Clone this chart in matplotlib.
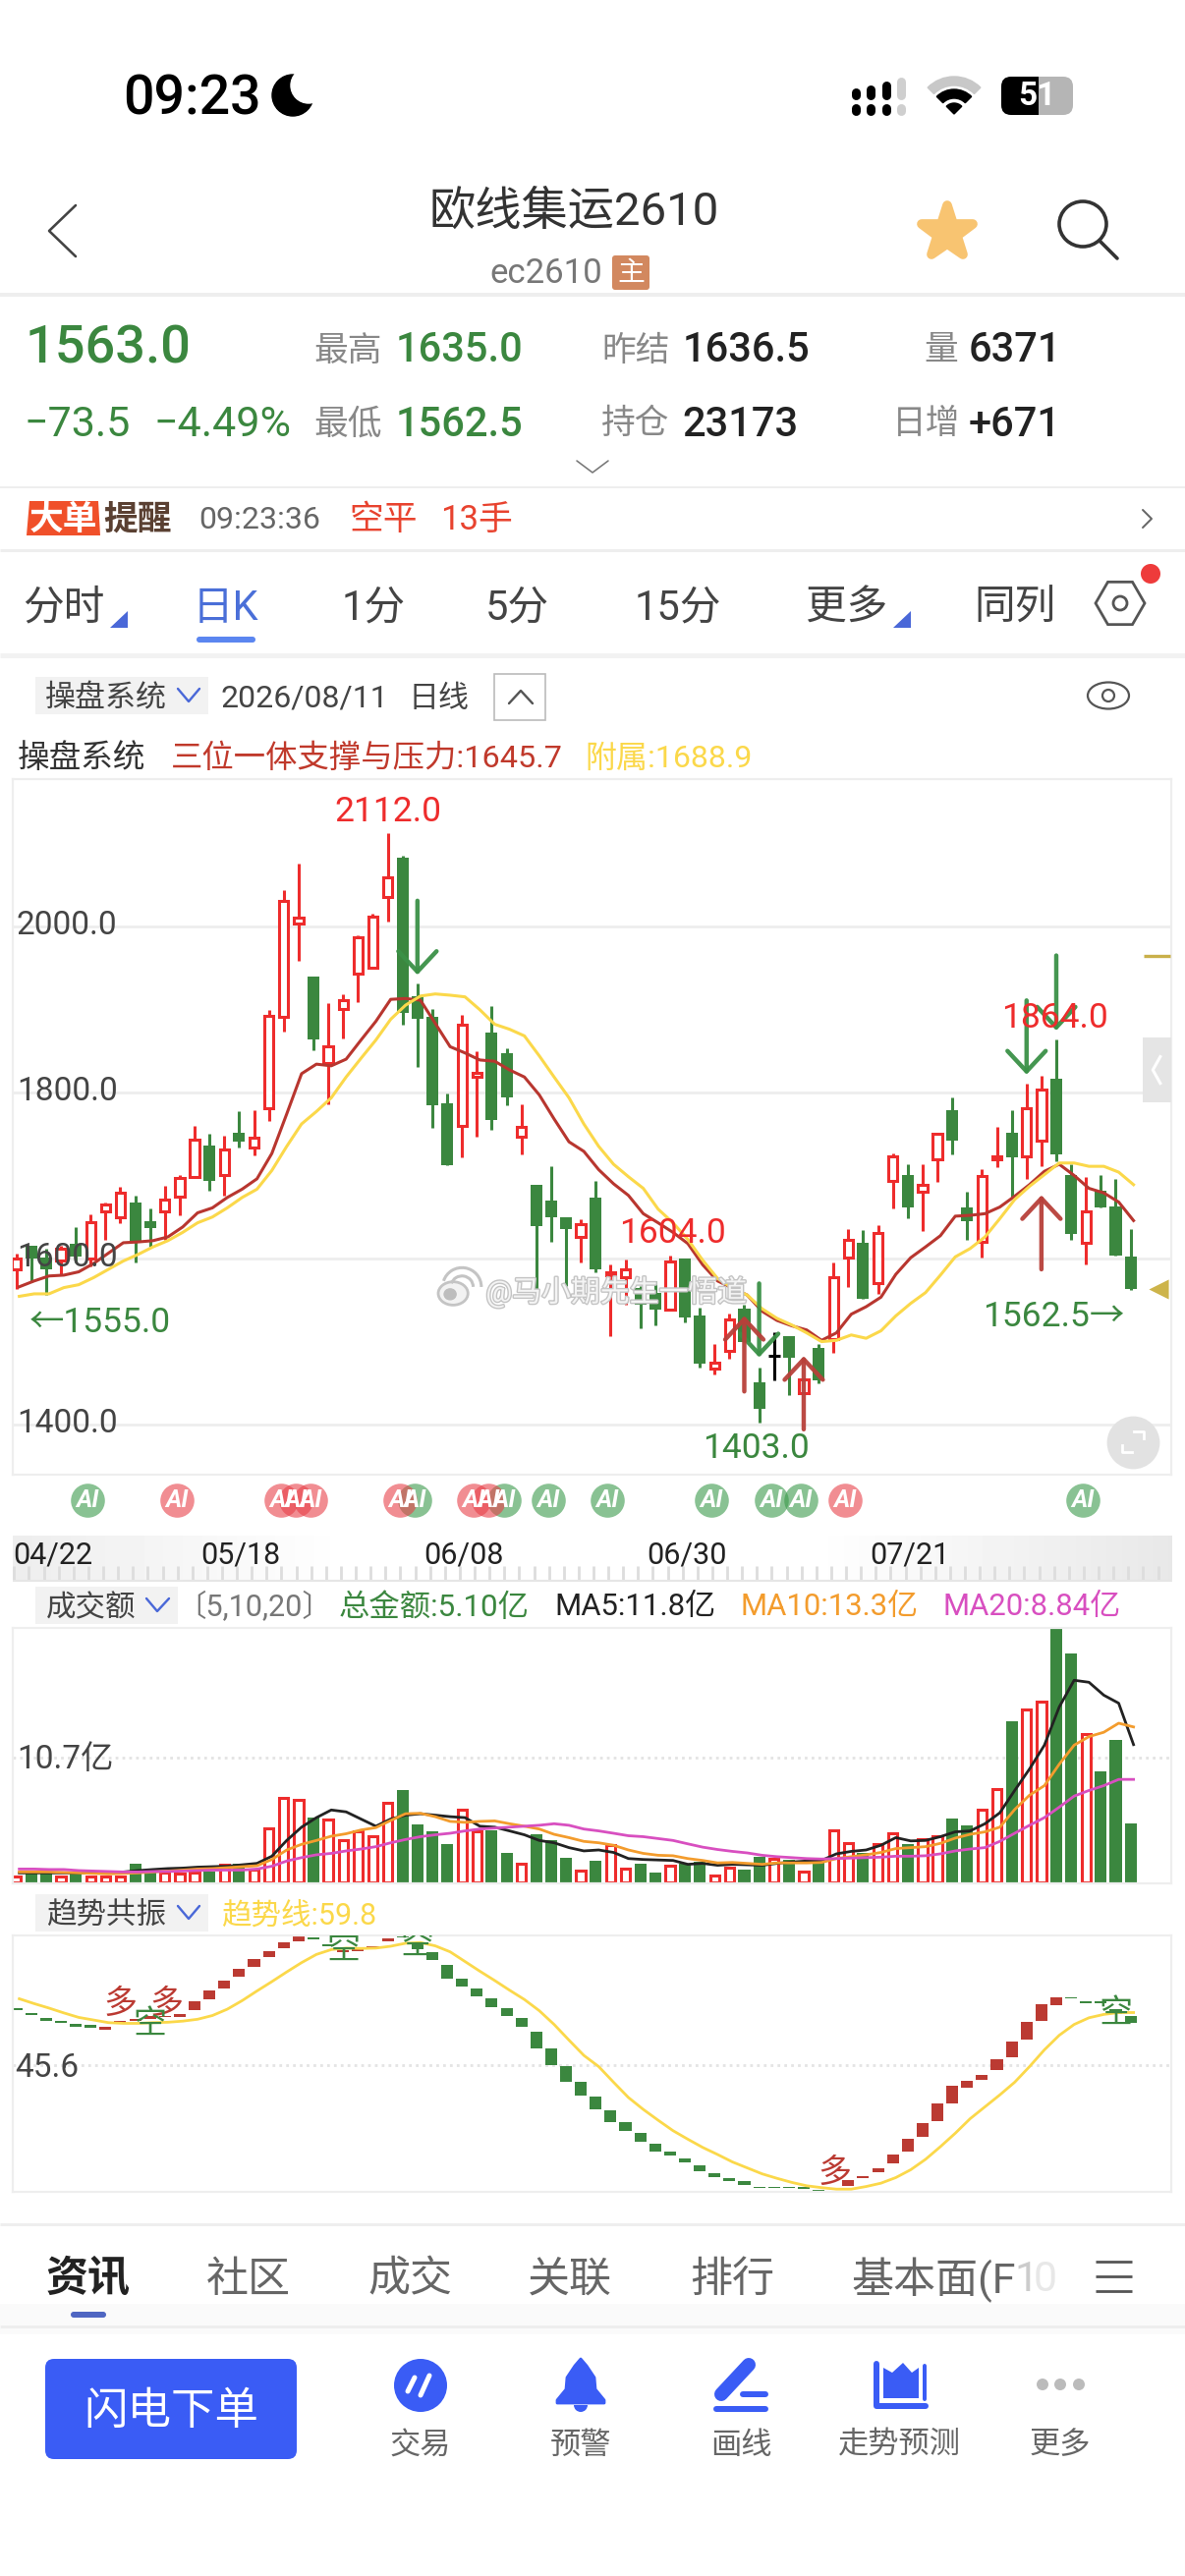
#libs
import matplotlib
matplotlib.use("Agg")
import matplotlib.pyplot as plt
import matplotlib.patheffects as pe
import numpy as np
from matplotlib.markers import MarkerStyle
from matplotlib.patches import Arc, Circle, Ellipse, FancyBboxPatch, Polygon, Rectangle, RegularPolygon, Wedge

plt.rcParams['font.family'] = ['Roboto', 'Noto Sans CJK SC', 'DejaVu Sans']

W, H = 1206, 2622

#price data, daily bars 04/22 to 08/11
opens = [1587, 1615, 1601, 1598, 1618, 1600, 1657, 1650, 1668, 1644.5, 1657, 1674.5, 1698.5, 1736, 1700, 1751.5,
         1734, 1780.5, 1891, 2003, 1940, 1835, 1900, 1943, 1950, 2035, 2082, 1916, 1891, 1787, 1760, 1818.5,
         1872, 1847.5, 1747, 1688.5, 1669.5, 1650, 1626.5, 1673.5, 1580, 1577.5, 1564.5, 1559, 1538, 1600, 1531, 1467,
         1489, 1539.5, 1451, 1482.5, 1506, 1438, 1492, 1503, 1601, 1619, 1570, 1693, 1701, 1681, 1720, 1778,
         1661, 1620, 1719, 1751.5, 1723.5, 1741.5, 1817, 1700, 1619, 1682, 1663, 1602]
closes = [1600, 1600, 1587, 1612, 1602, 1644, 1664.5, 1679, 1620, 1637, 1671, 1697, 1743, 1693, 1731, 1740.5,
          1746, 1892, 2030.5, 2010, 1864, 1855, 1911, 1987, 2012, 2058.5, 1895.5, 1888, 1785, 1712.5, 1881, 1823,
          1767, 1794, 1759, 1639, 1650, 1636, 1641, 1587, 1584, 1587, 1545, 1538, 1596, 1529.5, 1473.5, 1475,
          1527, 1500, 1419.5, 1482.5, 1480, 1455, 1453, 1577.5, 1623, 1551, 1630.5, 1722.5, 1662, 1689, 1750.5, 1741.5,
          1644.5, 1699, 1723, 1722, 1781, 1803, 1725, 1630, 1657, 1662, 1604, 1563]
highs = [1606.5, 1615, 1612, 1615, 1638, 1653, 1668, 1686, 1676, 1660, 1687, 1701, 1760, 1750.5, 1748, 1777,
         1778, 1899.5, 2044, 2075, 1940, 1907, 1918, 1989, 2015, 2112, 2085, 1931, 1900.5, 1799, 1893, 1849,
         1903.5, 1853, 1786, 1688.5, 1711, 1650, 1647, 1693, 1592.5, 1599, 1567, 1573, 1604, 1600, 1540.5, 1497.5,
         1534, 1545, 1469, 1511.5, 1506, 1456, 1497.5, 1595, 1636, 1634, 1640, 1726.5, 1714, 1714, 1750.5, 1793.5,
         1680, 1708, 1759, 1778, 1810, 1820, 1864, 1714, 1698.5, 1700, 1696, 1635]
lows = [1563, 1572, 1556, 1580, 1595, 1590, 1623, 1643, 1595, 1614, 1623, 1652, 1698.5, 1682, 1676, 1734,
        1724, 1765.5, 1873, 1958, 1851, 1786, 1865, 1909, 1950, 2005.5, 1882, 1831, 1757, 1712.5, 1722, 1747,
        1755.5, 1784.5, 1725, 1562, 1620, 1567, 1595, 1583, 1507, 1545, 1516, 1519, 1538, 1523, 1469, 1461,
        1479, 1500, 1403, 1453, 1436, 1438, 1450, 1486.5, 1566, 1551, 1557, 1660.5, 1648, 1633, 1692, 1725,
        1622, 1601, 1710, 1673.5, 1696, 1711, 1716.5, 1623, 1592.5, 1662, 1604, 1562.5]
support = [1566, 1573, 1579, 1580, 1584, 1594, 1606.5, 1619, 1620, 1621.5, 1626, 1638, 1655, 1661, 1673.5, 1683.5,
           1696, 1726.5, 1774, 1822.5, 1834, 1832, 1840, 1863, 1885.5, 1912, 1913, 1911, 1883, 1855, 1847.5, 1839,
           1837.5, 1827, 1818.5, 1797, 1768, 1740.5, 1729, 1707, 1690, 1676, 1654, 1643, 1631.5, 1618, 1592.5, 1573,
           1564.5, 1556, 1536.5, 1525.5, 1519, 1514, 1501.5, 1510.5, 1533, 1542, 1553.5, 1581, 1601, 1614, 1627.5, 1651,
           1652, 1654, 1662, 1675, 1689, 1705, 1713.5, 1700, 1684.5, 1679, 1668, 1645.7]
attached = [1554.5, 1557.5, 1557.5, 1565, 1568.5, 1577, 1587, 1597, 1605, 1614, 1621.5, 1631.5, 1643, 1650, 1661, 1673.5,
            1683.5, 1706, 1735, 1762, 1777, 1793.5, 1818.5, 1841, 1863, 1888, 1905, 1916, 1918.5, 1917, 1915, 1899.5,
            1882, 1876, 1868, 1844, 1818.5, 1793.5, 1762, 1735, 1713.5, 1698.5, 1684.5, 1659.5, 1643, 1623, 1598, 1576,
            1564.5, 1556, 1539.5, 1528, 1520, 1510.5, 1500, 1501.5, 1508, 1504, 1513, 1531, 1546, 1559, 1580, 1602,
            1612, 1626, 1648, 1671, 1687, 1701, 1715, 1715, 1711, 1711, 1704, 1688.9]

#turnover, in 亿
turnover = [0.61, 0.81, 0.81, 0.61, 0.81, 0.61, 0.61, 0.61, 1.70, 0.89, 0.89, 0.81, 0.89, 1.01, 1.62, 1.70,
            1.13, 4.66, 7.30, 7.09, 5.59, 5.47, 3.65, 4.46, 3.97, 6.81, 7.94, 4.99, 4.46, 3.32, 6.28, 4.46,
            4.54, 2.63, 1.70, 4.17, 3.65, 2.19, 1.09, 1.95, 3.24, 1.22, 1.70, 0.93, 1.54, 1.70, 1.82, 0.69,
            1.30, 1.13, 2.23, 2.11, 2.03, 0.97, 1.82, 4.54, 3.45, 2.63, 3.32, 4.26, 3.36, 3.73, 4.05, 5.55,
            4.90, 6.24, 7.98, 13.78, 14.79, 15.48, 21.72, 19.58, 12.73, 9.52, 12.16, 5.10]
ma5 = [0.89, 0.89, 0.89, 0.89, 0.89, 0.89, 0.89, 0.97, 1.09, 1.18, 1.26, 1.30, 1.38, 1.42, 1.46, 1.58,
       1.70, 2.31, 3.65, 4.78, 5.59, 6.24, 6.08, 5.47, 4.86, 5.47, 5.80, 5.92, 5.80, 5.67, 5.59, 4.86,
       4.78, 4.46, 4.13, 3.65, 3.45, 3.04, 2.76, 2.84, 2.63, 2.11, 2.03, 1.99, 1.95, 1.62, 1.70, 1.54,
       1.62, 1.58, 1.54, 1.70, 1.82, 1.90, 1.95, 2.51, 2.72, 2.84, 3.24, 3.89, 3.61, 3.65, 3.97, 4.38,
       4.46, 5.07, 6.00, 7.90, 9.73, 11.75, 15.0, 17.27, 17.10, 16.0, 15.32, 11.8]
ma10 = [0.97, 0.97, 0.97, 0.93, 0.89, 0.85, 0.81, 0.85, 0.89, 0.97, 1.05, 1.13, 1.22, 1.26, 1.34, 1.42,
        1.50, 2.03, 2.84, 3.32, 3.65, 4.01, 4.22, 4.54, 4.74, 5.35, 5.92, 5.96, 5.67, 5.27, 5.19, 5.27,
        5.31, 5.07, 4.86, 4.62, 4.17, 3.89, 3.57, 3.45, 3.24, 2.84, 2.55, 2.39, 2.35, 2.11, 1.95, 1.74,
        1.78, 1.70, 1.62, 1.74, 1.74, 1.74, 1.78, 2.11, 2.27, 2.43, 2.63, 2.96, 3.04, 3.12, 3.40, 3.85,
        4.17, 4.38, 4.78, 6.28, 7.50, 8.31, 10.13, 11.75, 12.48, 12.85, 13.62, 13.3]
ma20 = [1.22, 1.22, 1.18, 1.18, 1.09, 1.05, 1.01, 0.97, 0.97, 1.01, 1.01, 1.05, 1.09, 1.13, 1.13, 1.13,
        1.22, 1.46, 1.90, 2.19, 2.43, 2.55, 2.76, 2.92, 3.12, 3.45, 3.73, 3.97, 4.13, 4.26, 4.46, 4.62,
        4.70, 4.78, 4.86, 4.94, 5.07, 4.94, 4.62, 4.46, 4.26, 4.05, 3.97, 3.81, 3.65, 3.36, 3.08, 2.88,
        2.72, 2.59, 2.39, 2.27, 2.19, 2.11, 2.07, 2.11, 2.15, 2.19, 2.23, 2.31, 2.31, 2.35, 2.51, 2.76,
        2.92, 3.04, 3.57, 4.26, 4.94, 5.59, 6.48, 7.42, 7.90, 8.31, 8.84, 8.84]

#trend panel
trend_line = [63.5, 62.2, 61.0, 59.7, 58.5, 57.8, 57.1, 56.9, 56.9, 57.1, 57.2, 57.5, 58.0, 59.0, 60.7, 63.0,
              65.6, 68.1, 70.7, 73.2, 75.4, 76.7, 77.1, 77.0, 77.1, 77.6, 78.4, 78.6, 77.7, 76.1, 73.5, 70.9,
              68.4, 65.8, 63.3, 60.3, 56.6, 52.4, 48.3, 45.3, 41.1, 37.0, 33.8, 30.9, 28.1, 25.8, 23.6, 21.7,
              19.7, 18.1, 16.5, 15.3, 14.2, 13.3, 12.8, 12.4, 12.4, 13.1, 14.0, 15.5, 17.6, 20.4, 23.8, 27.4,
              31.3, 34.5, 37.7, 41.1, 45.3, 49.8, 53.7, 56.6, 58.4, 59.3, 59.8, 59.8]
trend_hi = [61.0, 59.7, 58.3, 57.5, 56.7, 56.6, 56.1, 57.5, 58.1, 58.8, 59.0, 59.4, 62.9, 65.6, 68.4, 71.6,
            74.3, 76.4, 78.6, 80.2, 79.9, 78.2, 76.6, 76.7, 77.7, 79.6, 80.5, 78.0, 76.1, 72.6, 69.0, 66.2,
            63.5, 61.0, 58.4, 54.7, 50.1, 45.5, 41.1, 37.3, 33.6, 30.4, 27.5, 24.7, 22.4, 20.6, 18.8, 16.8,
            15.3, 14.5, 13.1, 13.1, 13.1, 13.0, 12.3, 12.0, 14.9, 16.0, 17.9, 21.8, 25.9, 30.0, 35.4, 40.1,
            41.4, 43.0, 47.3, 52.1, 57.2, 62.0, 64.0, 64.0, 62.9, 62.9, 60.7, 58.8]
trend_lo = [60.4, 59.2, 57.6, 56.9, 56.1, 55.8, 55.2, 56.9, 57.5, 58.1, 58.5, 58.6, 60.4, 63.4, 66.2, 69.3,
            72.0, 74.6, 77.1, 79.0, 79.5, 77.5, 76.1, 76.2, 77.2, 78.9, 79.9, 76.7, 73.8, 68.8, 66.8, 64.2,
            61.3, 59.0, 56.0, 50.2, 45.7, 41.1, 37.4, 33.7, 30.5, 28.1, 25.2, 22.6, 21.4, 19.5, 17.3, 15.5,
            14.6, 13.6, 12.6, 12.6, 12.6, 12.4, 11.7, 11.7, 13.3, 15.4, 16.9, 19.2, 22.4, 26.4, 30.6, 35.5,
            39.5, 41.8, 44.3, 47.9, 52.6, 57.5, 61.7, 63.5, 62.2, 62.4, 59.4, 57.1]
trend_side = 'gggggg' + 'r' * 14 + 'gg' + 'rrrr' + 'g' * 29 + 'r' * 16 + 'ggggg'
trend_marks = [(7, 62, '多'), (10.1, 62, '多'), (9, 56.5, '空'), (22, 76.7, '空'),
               (27, 78, '空'), (55.1, 16.8, '多'), (74, 59.4, '空')]

#signal markers
ai_green = [5, 27, 33, 36, 40, 47, 51, 53, 72]
ai_red = [11, 18, 19, 20, 26, 31, 32, 56]
down_arrows = [(27, 2030.7, 1941.4), (50, 1570, 1481), (68, 1910.7, 1821.4), (70, 1964.8, 1874.4)]
up_arrows = [(49, 1440, 1531), (53, 1394.4, 1482.6), (69, 1587, 1676.3)]
price_ticks = [1400, 1600, 1800, 2000]
date_pos = [0.33, 13, 28, 43, 58]
date_labels = ['04/22', '05/18', '06/08', '06/30', '07/21']

RED = '#ee2c2c'
GREEN = '#3b873f'
DARKRED = '#b8362f'
YELLOW = '#fbd84a'
LINE = '#eeeeee'
BLUE = '#3a5cf5'
idx = np.arange(len(closes))

#bar n sits at 16.6 + 15.12*n pixels
PANEL_L, PANEL_R = 12.6, 1192
XLIM = ((PANEL_L - 16.6) / 15.12, (PANEL_R - 16.6) / 15.12)
LINE_SHIFT = 0.2


def make_ax(left, top, right, bottom, zorder=2):
    a = fig.add_axes([left / W, 1 - bottom / H, (right - left) / W, (bottom - top) / H], zorder=zorder)
    a.set_facecolor('none')
    a.set_xticks([])
    a.set_yticks([])
    for s in a.spines.values():
        s.set_color(LINE)
        s.set_linewidth(1.6)
    a.set_xlim(XLIM)
    return a


def T(x, y, s, size, color='#444444', ha='left', **kw):
    #va center sits a little high for these fonts
    bg.text(x, y + 7, s, fontsize=size, color=color, ha=ha, va='center', **kw)


def sep(y, lw=3, color=LINE):
    bg.plot([0, W], [y, y], color=color, lw=lw * 0.72, solid_capstyle='butt')


def stroke(xs, ys, color='#333333', lw=3):
    bg.plot(xs, ys, color=color, lw=lw * 0.72, solid_capstyle='round', solid_joinstyle='round')


fig = plt.figure(figsize=(W / 100, H / 100), dpi=100, facecolor='white')

#page furniture, drawn in pixel coordinates
bg = fig.add_axes([0, 0, 1, 1], zorder=1)
bg.set_xlim(0, W)
bg.set_ylim(H, 0)
bg.axis('off')

#status bar
T(125, 94, '09:23', 40, '#000000', weight='medium')
bg.add_patch(Circle((298, 97), 21, color='black'))
bg.add_patch(Circle((314, 87), 18, color='white'))
for n, cx in enumerate([871, 886, 902, 917]):
    c = '#cfcfcf' if n == 3 else 'black'
    top_y = [94, 91, 87, 83][n]
    stroke([cx, cx], [top_y, 97], c, 9)
    stroke([cx, cx], [110, 113], c, 9)
bg.add_patch(Wedge((971, 116), 38, 225, 315, width=9, color='#c8c8c8'))
bg.add_patch(Wedge((971, 116), 25, 225, 315, width=9, color='black'))
bg.add_patch(Wedge((971, 116), 11, 225, 315, color='black'))
bg.add_patch(FancyBboxPatch((1062, 78), 30, 39, boxstyle='round,pad=0,rounding_size=10', color='#b5b5b5', lw=0))
bg.add_patch(Rectangle((1057, 78), 20, 39, color='#b5b5b5', lw=0))
bg.add_patch(FancyBboxPatch((1019, 78), 38, 39, boxstyle='round,pad=0,rounding_size=10', color='black', lw=0))
bg.add_patch(Rectangle((1040, 78), 17, 39, color='black', lw=0))
T(1055, 91, '51', 24, 'white', ha='center', weight='bold')

#title bar
stroke([77, 50, 77], [209, 235, 261], '#444444', 2.6)
T(584, 209, '欧线集运2610', 34, '#333333', ha='center')
T(498, 272, 'ec2610', 25, '#777777')
bg.add_patch(FancyBboxPatch((623, 260), 38, 35, boxstyle='round,pad=0,rounding_size=3', color='#d2885f', lw=0))
T(642, 271, '主', 20, 'white', ha='center')
bg.plot([964], [237], marker=MarkerStyle('*', joinstyle='round'), ms=40, color='#f8c471', mew=7)
bg.add_patch(Ellipse((1102, 228), 48, 46, fill=False, ec='#333333', lw=2.6))
stroke([1119, 1137], [245, 263], '#333333', 3.6)
sep(300, 4)

#quote block
T(26, 348, '1563.0', 39, GREEN, weight='medium')
T(24, 425, '−73.5', 31, GREEN)
T(156, 425, '−4.49%', 31, GREEN)
for lab, x1, val, x2, y, col in [('最高', 319, '1635.0', 403, 350, GREEN), ('最低', 319, '1562.5', 403, 425, GREEN),
                                 ('昨结', 612, '1636.5', 695, 350, '#222222'), ('持仓', 612, '23173', 694, 425, '#222222'),
                                 ('量', 940, '6371', 986, 350, '#222222'), ('日增', 908, '+671', 986, 425, '#222222')]:
    T(x1, y, lab, 25, '#888888')
    T(x2, y, val, 30, col, weight='medium')
stroke([587, 603, 619], [469, 481, 469], '#777777', 1.6)
sep(496, 2)

#alert row
bg.add_patch(Polygon([(30, 510), (100, 510), (102, 545), (27, 545)], closed=True, color='#f0502a', lw=0))
T(64, 522, '大单', 25, 'white', ha='center', weight='bold', style='italic')
T(105, 522, '提醒', 25, '#5a4032', weight='bold', style='italic')
T(202, 522, '09:23:36', 23, '#666666')
T(355, 522, '空平', 25, '#e8432f')
T(448, 522, '13手', 25, '#e8432f')
stroke([1163, 1172, 1163], [519, 528, 537], '#666666', 2)
sep(560, 3)

#period tabs
for s, x in [('分时', 23), ('1分', 348), ('5分', 494), ('15分', 646), ('更多', 820), ('同列', 991)]:
    T(x, 612, s, 30, '#444444')
T(196, 612, '日K', 30, '#4a6fd8')
bg.add_patch(FancyBboxPatch((200, 648), 60, 6, boxstyle='round,pad=0,rounding_size=3', color='#5b86f0', lw=0))
for x0 in [112, 909]:
    bg.add_patch(Polygon([(x0 + 18, 622), (x0 + 18, 639), (x0, 639)], closed=True, color='#4a68d8', lw=0))
bg.add_patch(RegularPolygon((1140, 614), 6, radius=25, orientation=np.pi / 6, fill=False, ec='#555555', lw=2))
bg.add_patch(Circle((1140, 614), 7, fill=False, ec='#555555', lw=2))
bg.add_patch(Circle((1171, 584), 10, color='#ee3b3b', lw=0))
sep(667, 5, '#f2f2f2')

#indicator header
bg.add_patch(Rectangle((36, 689), 176, 38, color='#f2f2f2', lw=0))
T(46, 704, '操盘系统', 22.3, '#444444')
stroke([181, 192, 203], [701, 714, 701], '#4a68d8', 2.4)
T(225, 704, '2026/08/11', 23, '#444444')
T(416, 704, '日线', 22.3, '#444444')
bg.add_patch(Rectangle((503, 686), 52, 47, fill=False, ec='#bbbbbb', lw=1.2))
stroke([518, 530, 542], [716, 703, 716], '#555555', 2.4)
bg.add_patch(Ellipse((1128, 708), 42, 27, fill=False, ec='#555555', lw=1.6))
bg.add_patch(Circle((1128, 708), 6, fill=False, ec='#555555', lw=1.6))
T(18, 765, '操盘系统', 23.5, '#333333', weight='medium')
T(174, 765, '三位一体支撑与压力:1645.7', 23.3, '#c0392b')
T(595, 765, '附属:1688.9', 23, YELLOW)

#volume and trend headers
bg.add_patch(Rectangle((36, 1615), 145, 38, color='#f2f2f2', lw=0))
T(47, 1630, '成交额', 22, '#444444')
stroke([149, 160, 172], [1627, 1640, 1627], '#4a68d8', 2.4)
T(179, 1629, '〔5,10,20〕', 22, '#777777')
T(345, 1629, '总金额:5.10亿', 22.6, GREEN)
T(564, 1629, 'MA5:11.8亿', 22.4, '#222222')
T(754, 1629, 'MA10:13.3亿', 22.3, '#f39c2d')
T(959, 1629, 'MA20:8.84亿', 22.3, '#d84fc0')
bg.add_patch(Rectangle((36, 1928), 176, 38, color='#f2f2f2', lw=0))
T(47, 1943, '趋势共振', 22, '#444444')
stroke([181, 192, 203], [1940, 1953, 1940], '#4a68d8', 2.4)
T(225, 1943, '趋势线:59.8', 22, YELLOW)

#bottom tabs
sep(2264, 3)
bg.add_patch(Rectangle((0, 2345), W, 22, color='#fafafa', lw=0))
T(47, 2314, '资讯', 31, '#222222', weight='bold')
for s, x in [('社区', 210), ('成交', 374), ('关联', 537), ('排行', 702), ('基本面(F', 866)]:
    T(x, 2314, s, 31, '#666666')
T(1032, 2314, '1', 31, '#cccccc')
T(1052, 2314, '0', 31, '#e8e8e8')
for y in [2302, 2317, 2332]:
    bg.plot([1115, 1152], [y, y], color='#555555', lw=2, solid_capstyle='butt')
bg.add_patch(FancyBboxPatch((72, 2353), 36, 6, boxstyle='round,pad=0,rounding_size=3', color='#4f66c2', lw=0))
sep(2368, 3)
bg.add_patch(Rectangle((0, 2370), W, 6, color='#fafafa', lw=0))

#bottom nav
bg.add_patch(FancyBboxPatch((46, 2401), 256, 102, boxstyle='round,pad=0,rounding_size=9', color=BLUE, lw=0))
T(174, 2448, '闪电下单', 32, 'white', ha='center')
bg.add_patch(Circle((428, 2428), 27, color=BLUE, lw=0))
stroke([422, 415], [2420, 2434], 'white', 5)
stroke([437, 428], [2418, 2438], 'white', 5)
bell = [(591, 2401), (597, 2408), (605, 2420), (606, 2432), (615, 2443), (615, 2446), (567, 2446), (567, 2443),
        (576, 2432), (577, 2420), (585, 2408)]
bg.add_patch(Polygon(bell, closed=True, color=BLUE, lw=2, joinstyle='round'))
bg.add_patch(Wedge((591, 2448), 7, 0, 180, color=BLUE, lw=0))
stroke([762, 734], [2407, 2437], BLUE, 14)
stroke([756, 779], [2437, 2437], BLUE, 6)
stroke([729, 779], [2452, 2452], BLUE, 6)
stroke([892, 892, 942], [2406, 2449, 2449], BLUE, 6)
bg.add_patch(Polygon([(899, 2410), (908, 2415), (919, 2405), (928, 2415), (935, 2410), (935, 2441), (899, 2441)],
                     closed=True, color=BLUE, lw=0))
stroke([941, 941], [2408, 2442], BLUE, 4)
for x in [1061, 1079, 1098]:
    bg.add_patch(Circle((x, 2427), 6, color='#bbbbbb', lw=0))
for s, x in [('交易', 428), ('预警', 591), ('画线', 754), ('走势预测', 915), ('更多', 1079)]:
    T(x, 2482, s, 22.5, '#666666', ha='center')

#candlesticks
ax = make_ax(PANEL_L, 793.2, PANEL_R, 1500.6)
ax.set_ylim(1340.3, 2176.9)
for p in price_ticks:
    ax.axhline(p, color=LINE, lw=2, zorder=1)
for i in idx:
    o, c, h, l = opens[i], closes[i], highs[i], lows[i]
    col = RED if c > o else (GREEN if c < o else 'black')
    ax.vlines(i, l, h, color=col, lw=2.2, zorder=2)
    if c > o:
        ax.bar(i, c - o, bottom=o, width=0.62, facecolor='white', edgecolor=RED, linewidth=2.2, zorder=3)
    elif c < o:
        ax.bar(i, o - c, bottom=c, width=0.8, color=GREEN, linewidth=0, zorder=3)
    else:
        ax.hlines(o, i - 0.4, i + 0.4, color='black', lw=2.2, zorder=3)
ax.plot(idx + LINE_SHIFT, support, color=DARKRED, lw=2.2, zorder=4)
ax.plot(idx + LINE_SHIFT, attached, color=YELLOW, lw=2.2, zorder=4)
for i, y0, y1 in down_arrows:
    ax.annotate('', xy=(i, y1), xytext=(i, y0), zorder=5,
                arrowprops=dict(arrowstyle='->,head_length=0.75,head_width=0.7', color='#3b9147', lw=3.2,
                                mutation_scale=20, shrinkA=0, shrinkB=0, alpha=0.95))
for i, y0, y1 in up_arrows:
    ax.annotate('', xy=(i, y1), xytext=(i, y0), zorder=5,
                arrowprops=dict(arrowstyle='->,head_length=0.75,head_width=0.7', color='#b8403a', lw=3.2,
                                mutation_scale=20, shrinkA=0, shrinkB=0, alpha=0.95))
for p in price_ticks:
    ax.text(XLIM[0] + 0.28, p + 1, f'{p:.1f}', fontsize=24, color='#444444', va='center', zorder=6)
ax.text(25, 2137, '2112.0', fontsize=25.5, color=RED, ha='center', va='center', zorder=6)
ax.text(44.2, 1630, '1604.0', fontsize=25.5, color=RED, ha='center', va='center', zorder=6)
ax.text(49.8, 1371, '1403.0', fontsize=25.5, color=GREEN, ha='center', va='center', zorder=6)
ax.text(69.9, 1889, '1864.0', fontsize=25.5, color=RED, ha='center', va='center', zorder=6)
ax.text(0.9, 1523, '←1555.0', fontsize=25.5, color=GREEN, va='center', zorder=6)
ax.text(74.6, 1530, '1562.5→', fontsize=25.5, color=GREEN, ha='right', va='center', zorder=6)

#watermark
ax.text(31.6, 1560, '@马小期先生一悟道', fontsize=21.5, color='#f4f4f4', va='center', zorder=7,
        path_effects=[pe.withStroke(linewidth=2, foreground='#c4c4c4')])
ax.add_patch(Ellipse((29.4, 1558), 2.0, 28, facecolor='#f2f2f2', ec='#c4c4c4', lw=2, zorder=7))
ax.add_patch(Ellipse((29.2, 1557), 0.8, 13, color='#bdbdbd', zorder=7))
ax.add_patch(Arc((30.0, 1566), 2.6, 46, theta1=-10, theta2=100, color='#c4c4c4', lw=2.2, zorder=7))
ax.add_patch(Arc((30.0, 1566), 1.5, 26, theta1=-10, theta2=100, color='#c4c4c4', lw=2.2, zorder=7))

#right edge: limit ticks, handle and full-screen button
ax.hlines(1963.7, 75.9, 77.7, color='#c9b04a', lw=2.4, zorder=4)
ax.scatter([76.85], [1563], marker='<', s=210, color='#cdb44a', linewidths=0, zorder=4)
ax.add_patch(Rectangle((75.85, 1788), 1.95, 78, color='#e5e5e5', lw=0, zorder=4))
ax.plot([77, 76.5, 77], [1843, 1827, 1811], color='white', lw=2.2, zorder=5)
ax.scatter([75.15], [1379], s=1500, color='#e2e2e2', linewidths=0, zorder=4)
ax.plot([75.2, 75.9, 75.9], [1392, 1392, 1384], color='white', lw=2, zorder=5)
ax.plot([74.4, 74.4, 75.1], [1375, 1367, 1367], color='white', lw=2, zorder=5)

#AI badges
ax_ai = make_ax(PANEL_L, 1505, PANEL_R, 1549)
ax_ai.axis('off')
ax_ai.set_ylim(-1, 1)
for group, col in [(ai_green, '#3b9a4b'), (ai_red, '#e8414a')]:
    pos = np.array(group) - 0.2
    ax_ai.scatter(pos, np.zeros(len(pos)), s=620, color=col, alpha=0.6, linewidths=0, clip_on=False)
    for xp in pos:
        ax_ai.text(xp, 0, 'AI', fontsize=18, color='white', ha='center', va='center', weight='bold', style='italic')

#date strip
ax_dt = make_ax(PANEL_L, 1563, PANEL_R, 1610.5)
ax_dt.axis('off')
ax_dt.set_ylim(0, 1)
shade = np.interp(np.linspace(0, 1, 300), [0, 0.29, 0.69, 1], [0.93, 1, 1, 0.91]).reshape(1, -1)
ax_dt.imshow(shade, extent=[XLIM[0], XLIM[1], 0, 1], aspect='auto', cmap='gray', vmin=0, vmax=1, zorder=0)
ax_dt.vlines(np.arange(78) - 0.15, 0.03, 0.34, color='#dddddd', lw=2, zorder=1)
ax_dt.axhline(0.03, color='#e6e6e6', lw=1.5, zorder=1)
for p, s in zip(date_pos, date_labels):
    ax_dt.text(p - 0.58, 0.58, s, fontsize=22, color='#222222', va='center', zorder=2)

#turnover panel
ax_v = make_ax(PANEL_L, 1657, PANEL_R, 1917)
ax_v.set_ylim(0, 21.72)
ax_v.axhline(10.7, color='#e4e4e4', lw=2, ls=(0, (1, 1.5)), zorder=1)
for i in idx:
    if closes[i] >= opens[i]:
        ax_v.bar(i, turnover[i] - 0.05, bottom=0.05, width=0.62, facecolor='white', edgecolor=RED, linewidth=2.2, zorder=2)
    else:
        ax_v.bar(i, turnover[i], width=0.8, color=GREEN, linewidth=0, zorder=2)
ax_v.plot(idx + LINE_SHIFT, ma5, color='#222222', lw=2, zorder=3)
ax_v.plot(idx + LINE_SHIFT, ma10, color='#f39c2d', lw=2, zorder=3)
ax_v.plot(idx + LINE_SHIFT, ma20, color='#d84fc0', lw=2, zorder=3)
ax_v.text(XLIM[0] + 0.28, 10.55, '10.7亿', fontsize=24, color='#444444', va='center', zorder=4)

#trend panel
ax_t = make_ax(PANEL_L, 1970, PANEL_R, 2230.5)
ax_t.set_ylim(11.8, 80.5)
ax_t.axhline(45.6, color='#e4e4e4', lw=2, ls=(0, (1, 1.5)), zorder=1)
for i in idx:
    col = '#bb3a32' if trend_side[i] == 'r' else GREEN
    ax_t.bar(i, trend_hi[i] - trend_lo[i], bottom=trend_lo[i], width=0.8, color=col, linewidth=0, zorder=2)
ax_t.plot(idx + LINE_SHIFT, trend_line, color=YELLOW, lw=2, zorder=3)
for xp, yp, s in trend_marks:
    ax_t.text(xp, yp, s, fontsize=24.5, color='#bb3a32' if s == '多' else GREEN, ha='center', va='center',
              zorder=4, clip_on=True)
ax_t.text(XLIM[0] + 0.2, 44.9, '45.6', fontsize=24, color='#444444', va='center', zorder=4)

fig.savefig('out.png', dpi=100, facecolor='white')
